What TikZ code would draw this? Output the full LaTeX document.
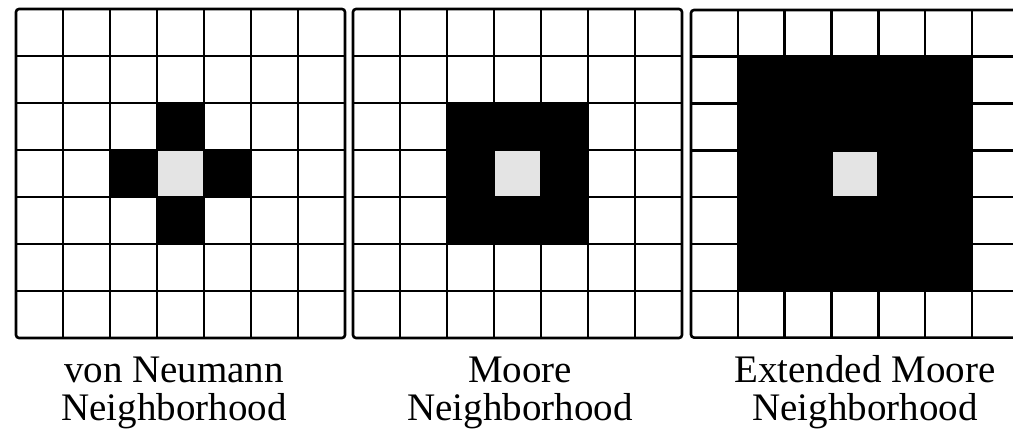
\documentclass[tikz,border=0pt]{standalone}
\usepackage{fontspec}
\setmainfont{Liberation Serif}
\definecolor{centergray}{HTML}{E4E4E4}
\newcommand\nbgrid[3]{% x0, y0, cell
  \begin{scope}[shift={(#1,#2)}]
    \foreach \i in {1,...,6} {
      \draw[gridline] (\i*#3,0) -- (\i*#3,7*#3);
      \draw[gridline] (0,\i*#3) -- (7*#3,\i*#3);
    }
    \draw[gridline, rounded corners=3pt] (0,0) rectangle (7*#3,7*#3);
  \end{scope}}
\newcommand\nbcell[5]{% x0, y0, cell, col, row
  \fill[black] (#1+#4*#3,#2+#5*#3) rectangle ++(#3,#3);}
\newcommand\nbcenter[3]{% x0, y0, cell
  \fill[centergray] (#1+3*#3,#2+3*#3) rectangle ++(#3,#3);}
\begin{document}
\begin{tikzpicture}[x=1pt,y=-1pt,
  gridline/.style={line width=2.6pt, draw=black},
  caption/.style={font=\fontsize{39}{38}\selectfont, anchor=base, inner sep=0pt}]
\useasboundingbox (0,0) rectangle (1013,433);
\clip (0,0) rectangle (1013,433);
\fill[white] (0,0) rectangle (1013,433);
% von Neumann
\nbcell{16}{9}{47}{3}{2}
\nbcell{16}{9}{47}{2}{3}
\nbcell{16}{9}{47}{4}{3}
\nbcell{16}{9}{47}{3}{4}
\nbcenter{16}{9}{47}
\nbgrid{16}{9}{47}
% Moore
\fill[black] (353+2*47,9+2*47) rectangle ++(3*47,3*47);
\nbcenter{353}{9}{47}
\nbgrid{353}{9}{47}
% Extended Moore
\fill[black] (691+46.8,10+46.8) rectangle ++(5*46.8,5*46.8);
\nbcenter{691}{10}{46.8}
\nbgrid{691}{10}{46.8}
% captions
\node[caption] (c1a) at (174,382) {von Neumann};
\node[caption] (c1b) at (174,420) {Neighborhood};
\node[caption] (c2a) at (520,382) {Moore};
\node[caption] (c2b) at (520,420) {Neighborhood};
\node[caption] (c3a) at (865,382) {Extended Moore};
\node[caption] (c3b) at (865,420) {Neighborhood};
\end{tikzpicture}
\end{document}
